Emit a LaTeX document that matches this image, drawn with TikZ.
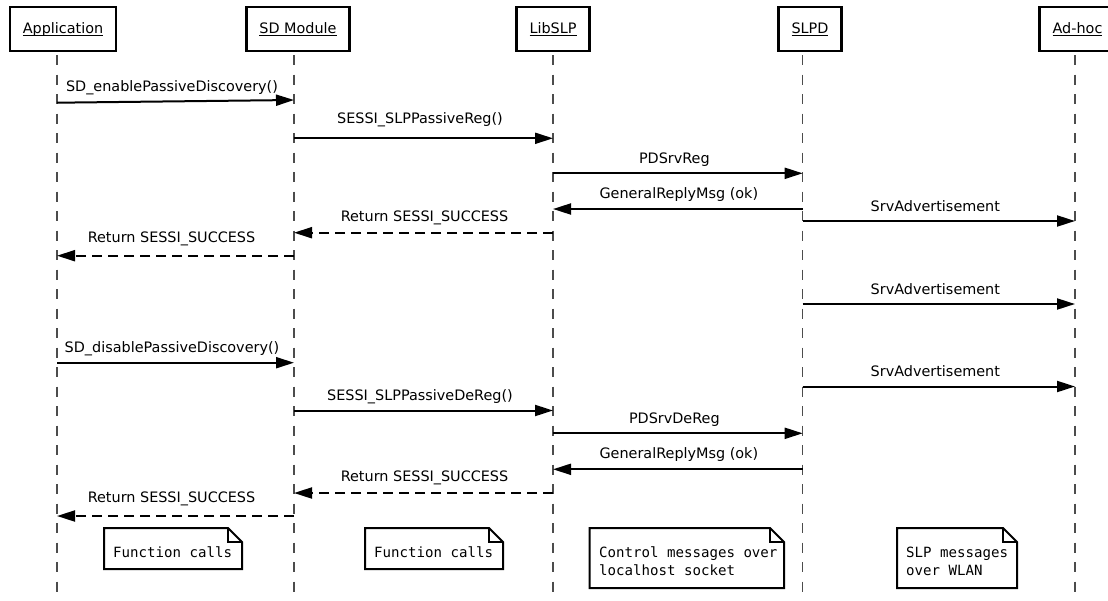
\documentclass[tikz,border=0pt]{standalone}
\usepackage{fontspec}
\setmainfont{DejaVu Sans}
\setmonofont{DejaVu Sans Mono}
\usetikzlibrary{arrows.meta}

\newcommand\msgfont{\fontsize{14.4pt}{17pt}\selectfont}
\newcommand\notefont{\ttfamily\fontsize{14.1pt}{18.7pt}\selectfont}
% underline set just below the baseline, across descenders
\newcommand\ulabel[1]{\setbox0\hbox{#1}\rlap{\rule[-2.7pt]{\wd0}{1pt}}\box0}

% x positions of the lifelines
\def\xApp{57}
\def\xSD{294}
\def\xLib{553}
\def\xSLPD{802.7}
\def\xAd{1075}

\tikzset{
  actor/.style={draw, line width=2.4pt, fill=white, minimum height=44pt,
    inner xsep=13pt, inner ysep=0pt, text height=12pt, text depth=3.4pt, font=\msgfont},
  life/.style={line width=1.2pt, black!70, dash pattern=on 10pt off 9.5pt},
  call/.style={line width=2pt, -{Triangle[length=18pt,width=11pt]}},
  ret/.style={call, dash pattern=on 10pt off 6pt},
  lbl/.style={anchor=base, yshift=10pt, inner sep=0pt, font=\msgfont},
  toright/.style={lbl, xshift=-3.5pt},
  toleft/.style={lbl, xshift=1pt},
  noteline/.style={line width=2pt, fill=white, line join=miter},
  notetext/.style={anchor=base west, inner sep=0pt, font=\notefont}
}

% a message between two lifelines: name, line style, label style, x1, y1, x2, y2, label
\newcommand\seqmsg[8]{%
  \coordinate (#1s) at (#4,#5);
  \coordinate (#1e) at (#6,#7);
  \draw[#2] (#1s) -- node[#3] {#8} (#1e);
}

% a note with a folded corner: name, x1, y1, x2, y2
\newcommand\notebox[5]{%
  \coordinate (#1nw) at (#2,#3);
  \coordinate (#1se) at (#4,#5);
  \draw[noteline] (#1nw) -- (#4-14,#3) -- (#4,#3+14) -- (#1se) -- (#2,#5) -- cycle;
  \draw[line width=1.2pt] (#4-14,#3) -- (#4-14,#3+14) -- (#4,#3+14);
}

\begin{document}
\begin{tikzpicture}[x=1pt, y=-1pt]
\useasboundingbox (0,0) rectangle (1108,600);
\begin{scope}
\clip (0,0) rectangle (1108,600);

% lifelines
\foreach \n/\x in {app/\xApp, sd/\xSD, lib/\xLib, slpd/\xSLPD, adhoc/\xAd} {
  \coordinate (\n Top) at (\x,55);
  \coordinate (\n End) at (\x,600);
  \draw[life] (\n Top) -- (\n End);
}

% participants
\node[actor] (app)   at (63,29)     {\ulabel{Application}};
\node[actor] (sd)    at (298,29)    {\ulabel{SD Module}};
\node[actor] (lib)   at (553,29)    {\ulabel{LibSLP}};
\node[actor] (slpd)  at (810,29)    {\ulabel{SLPD}};
\node[actor] (adhoc) at (1077.5,29) {\ulabel{Ad-hoc}};

% registration
\seqmsg{m1}{call}{toright}{\xApp}{102.7}{\xSD}{100}{SD\_enablePassiveDiscovery()}
\seqmsg{m2}{call}{toright, yshift=4.5pt}{\xSD}{138.3}{\xLib}{138.3}{SESSI\_SLPPassiveReg()}
\seqmsg{m3}{call}{toright}{\xLib}{173.3}{\xSLPD}{173.3}{PDSrvReg}
\seqmsg{m4}{call}{toleft, yshift=1pt}{\xSLPD}{209}{\xLib}{209}{GeneralReplyMsg (ok)}
\seqmsg{m5}{call}{toright}{\xSLPD}{221}{\xAd}{221}{SrvAdvertisement}
\seqmsg{m6}{ret}{toleft, yshift=1.5pt}{\xLib}{232.7}{\xSD}{232.7}{Return SESSI\_SUCCESS}
\seqmsg{m7}{ret}{toleft, yshift=3.5pt, xshift=-5pt}{\xSD}{255.7}{\xApp}{255.7}{Return SESSI\_SUCCESS}
\seqmsg{m8}{call}{toright}{\xSLPD}{304}{\xAd}{304}{SrvAdvertisement}

% deregistration
\seqmsg{m9}{call}{toright}{\xApp}{362.7}{\xSD}{362.7}{SD\_disablePassiveDiscovery()}
\seqmsg{m10}{call}{toright}{\xSLPD}{386.5}{\xAd}{386.5}{SrvAdvertisement}
\seqmsg{m11}{call}{toright}{\xSD}{410.5}{\xLib}{410.5}{SESSI\_SLPPassiveDeReg()}
\seqmsg{m12}{call}{toright}{\xLib}{433.3}{\xSLPD}{433.3}{PDSrvDeReg}
\seqmsg{m13}{call}{toleft, yshift=1pt}{\xSLPD}{469.3}{\xLib}{469.3}{GeneralReplyMsg (ok)}
\seqmsg{m14}{ret}{toleft, yshift=1.5pt}{\xLib}{493}{\xSD}{493}{Return SESSI\_SUCCESS}
\seqmsg{m15}{ret}{toleft, yshift=3.5pt, xshift=-5pt}{\xSD}{516}{\xApp}{516}{Return SESSI\_SUCCESS}

% notes
\notebox{n1}{104}{528}{242}{569}
\node[notetext] (n1t) at (113,557) {Function calls};
\notebox{n2}{365}{528}{503}{569}
\node[notetext] (n2t) at (374,557) {Function calls};
\notebox{n3}{589.5}{528}{784}{588}
\node[notetext] (n3a) at (599,557) {Control messages over};
\node[notetext] (n3b) at (599,575.7) {localhost socket};
\notebox{n4}{897}{528}{1017}{588}
\node[notetext] (n4a) at (906,557) {SLP messages};
\node[notetext] (n4b) at (906,575.7) {over WLAN};
\end{scope}
\end{tikzpicture}
\end{document}
